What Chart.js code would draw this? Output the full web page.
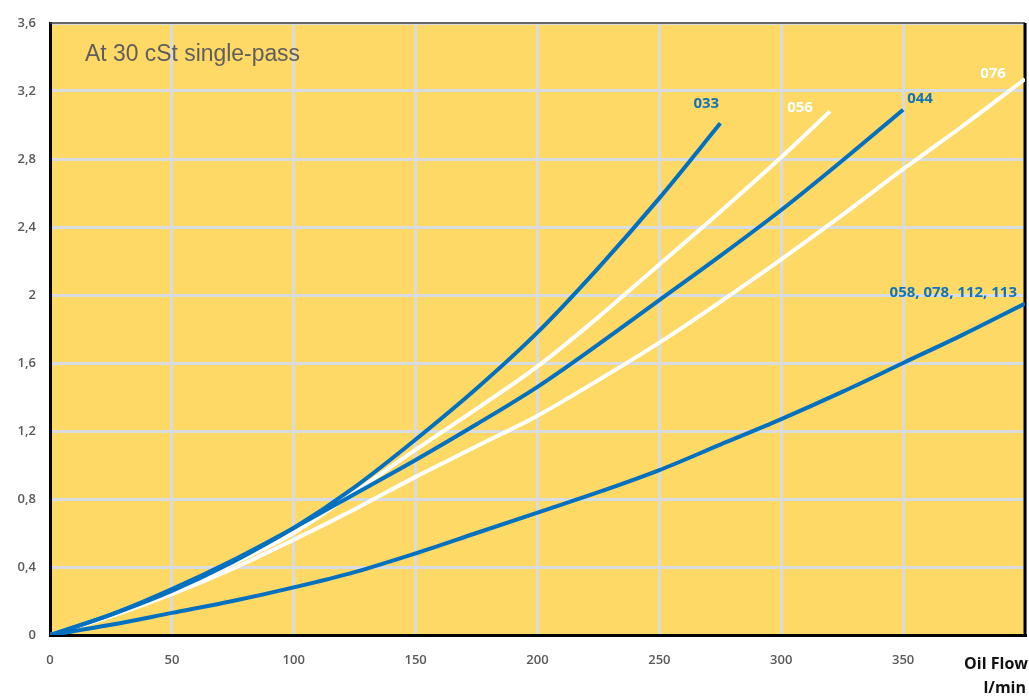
<!DOCTYPE html>
<html>
<head>
<meta charset="utf-8">
<script src="https://cdn.jsdelivr.net/npm/chart.js@4.4.1/dist/chart.umd.min.js"></script>
<style>
  html, body { margin: 0; padding: 0; background: #ffffff; }
  #wrap { width: 1029px; height: 698px; position: relative; }
</style>
</head>
<body>
<div id="wrap"><canvas id="c" width="1029" height="698"></canvas></div>
<script>
// Tick values for both axes
const xTicks = [0, 50, 100, 150, 200, 250, 300, 350, 400];
const yTicks = [0, 0.4, 0.8, 1.2, 1.6, 2, 2.4, 2.8, 3.2, 3.6];

// Pressure drop (bar) against oil flow (l/min), one pair of arrays per element
const flow033 = [0, 25, 50, 75, 100, 125, 150, 175, 200, 225, 250, 275];
const dp033   = [0, 0.12, 0.26, 0.43, 0.63, 0.87, 1.15, 1.45, 1.78, 2.16, 2.57, 3.01];

const flow044 = [0, 25, 50, 75, 100, 125, 150, 175, 200, 225, 250, 275, 300, 325, 350];
const dp044   = [0, 0.12, 0.27, 0.44, 0.63, 0.83, 1.03, 1.24, 1.46, 1.71, 1.97, 2.23, 2.50, 2.79, 3.09];

const flow058 = [0, 25, 50, 75, 100, 125, 150, 175, 200, 225, 250, 275, 300, 325, 350, 375, 400];
const dp058   = [0, 0.06, 0.13, 0.20, 0.28, 0.37, 0.48, 0.60, 0.72, 0.84, 0.97, 1.12, 1.27, 1.43, 1.60, 1.77, 1.95];

const flow056 = [0, 25, 50, 75, 100, 125, 150, 175, 200, 225, 250, 275, 300, 320];
const dp056   = [0, 0.12, 0.26, 0.42, 0.60, 0.84, 1.09, 1.33, 1.58, 1.87, 2.18, 2.49, 2.81, 3.08];

const flow076 = [0, 25, 50, 75, 100, 125, 150, 175, 200, 225, 250, 275, 300, 325, 350, 375, 400];
const dp076   = [0, 0.11, 0.24, 0.39, 0.56, 0.74, 0.93, 1.11, 1.29, 1.50, 1.72, 1.96, 2.21, 2.47, 2.74, 3.00, 3.27];

const seriesNames = ['033', '044', '058, 078, 112, 113', '056', '076'];

const BLUE = '#0070C0';
const WHITE = '#FFFFFF';
const LABEL_BLUE = '#1273B6';

function pts(xs, ys) { return xs.map((x, i) => ({ x: x, y: ys[i] })); }

function line(name, xs, ys, color, labelColor, dx, dy, align) {
  return {
    label: name,
    data: pts(xs, ys),
    borderColor: color,
    backgroundColor: color,
    borderWidth: 4,
    pointRadius: 0,
    fill: false,
    cubicInterpolationMode: 'monotone',
    endLabel: { color: labelColor, dx: dx, dy: dy, align: align }
  };
}

// Blue curves first so they are painted over the white ones
const datasets = [
  line(seriesNames[0], flow033, dp033, BLUE, LABEL_BLUE, -14, -20, 'center'),
  line(seriesNames[1], flow044, dp044, BLUE, LABEL_BLUE, 4, -11, 'left'),
  line(seriesNames[2], flow058, dp058, BLUE, LABEL_BLUE, -8, -11, 'right'),
  line(seriesNames[3], flow056, dp056, WHITE, WHITE, -30, -4, 'center'),
  line(seriesNames[4], flow076, dp076, WHITE, WHITE, -32, -5, 'center')
];

const plotDecor = {
  id: 'plotDecor',
  beforeDraw(chart) {
    const { ctx, chartArea: a } = chart;
    ctx.save();
    ctx.fillStyle = '#FFD966';
    ctx.fillRect(a.left, a.top, a.right - a.left, a.bottom - a.top);
    ctx.restore();
  },
  beforeDatasetsDraw(chart) {
    const { ctx, chartArea: a } = chart;
    ctx.save();
    // top and right frame of the plot area
    ctx.strokeStyle = '#404040';
    ctx.lineWidth = 1.5;
    ctx.beginPath();
    ctx.moveTo(a.left, a.top);
    ctx.lineTo(a.right, a.top);
    ctx.stroke();
    ctx.strokeStyle = '#000000';
    ctx.lineWidth = 3;
    ctx.beginPath();
    ctx.moveTo(a.right, a.top);
    ctx.lineTo(a.right, a.bottom);
    ctx.stroke();

    // condition note in the upper-left corner
    const note = 'At 30 cSt single-pass';
    ctx.font = '23px "Liberation Sans", Arial, sans-serif';
    ctx.fillStyle = '#5E5E5E';
    ctx.textBaseline = 'alphabetic';
    ctx.textAlign = 'left';
    const w = ctx.measureText(note).width;
    const sx = 215 / w;
    ctx.translate(a.left + 35, a.top + 38);
    ctx.scale(sx, 1);
    ctx.fillText(note, 0, 0);
    ctx.restore();
  },
  afterDatasetsDraw(chart) {
    const { ctx } = chart;
    ctx.save();
    ctx.font = 'bold 15px "Open Sans", "Noto Sans", sans-serif';
    ctx.textBaseline = 'middle';
    chart.data.datasets.forEach((ds, i) => {
      const meta = chart.getDatasetMeta(i);
      const last = meta.data[meta.data.length - 1];
      const o = ds.endLabel;
      ctx.fillStyle = o.color;
      ctx.textAlign = o.align;
      ctx.fillText(ds.label, last.x + o.dx, last.y + o.dy);
    });
    ctx.restore();
  },
  afterDraw(chart) {
    const { ctx, chartArea: a } = chart;
    ctx.save();
    ctx.fillStyle = '#111111';
    ctx.textAlign = 'right';
    ctx.textBaseline = 'middle';
    ctx.font = 'bold 16px "Open Sans", "Noto Sans", sans-serif';
    ctx.fillText('Oil Flow', a.right + 3, 664);
    ctx.fillText('l/min', a.right + 1, 688);
    ctx.restore();
  }
};

const tickFont = { family: '"Open Sans", "Noto Sans", sans-serif', size: 13, weight: '600' };

new Chart(document.getElementById('c'), {
  type: 'line',
  data: { datasets: datasets },
  options: {
    responsive: false,
    animation: false,
    devicePixelRatio: 1,
    layout: { padding: { top: 23, right: 4, left: 0, bottom: 0 } },
    plugins: { legend: { display: false }, tooltip: { enabled: false } },
    scales: {
      x: {
        type: 'linear',
        min: 0,
        max: 400,
        afterBuildTicks: s => { s.ticks = xTicks.map(v => ({ value: v })); },
        afterFit: s => { s.height = 63; s.paddingRight = 0; s.paddingLeft = 0; },
        ticks: {
          color: '#595959',
          font: tickFont,
          padding: 17,
          maxRotation: 0,
          autoSkip: false,
          callback: v => (v === 400 ? '' : String(v))
        },
        grid: { color: '#D8DBDF', lineWidth: 3, drawTicks: false },
        border: { color: '#000000', width: 3 }
      },
      y: {
        type: 'linear',
        min: 0,
        max: 3.6,
        afterBuildTicks: s => { s.ticks = yTicks.map(v => ({ value: v })); },
        afterFit: s => { s.width = 50; },
        ticks: {
          color: '#595959',
          font: tickFont,
          padding: 14,
          autoSkip: false,
          callback: v => String(Math.round(v * 10) / 10).replace('.', ',')
        },
        grid: { color: '#D8DBDF', lineWidth: 3, drawTicks: false },
        border: { color: '#000000', width: 3 }
      }
    }
  },
  plugins: [plotDecor]
});
</script>
</body>
</html>
